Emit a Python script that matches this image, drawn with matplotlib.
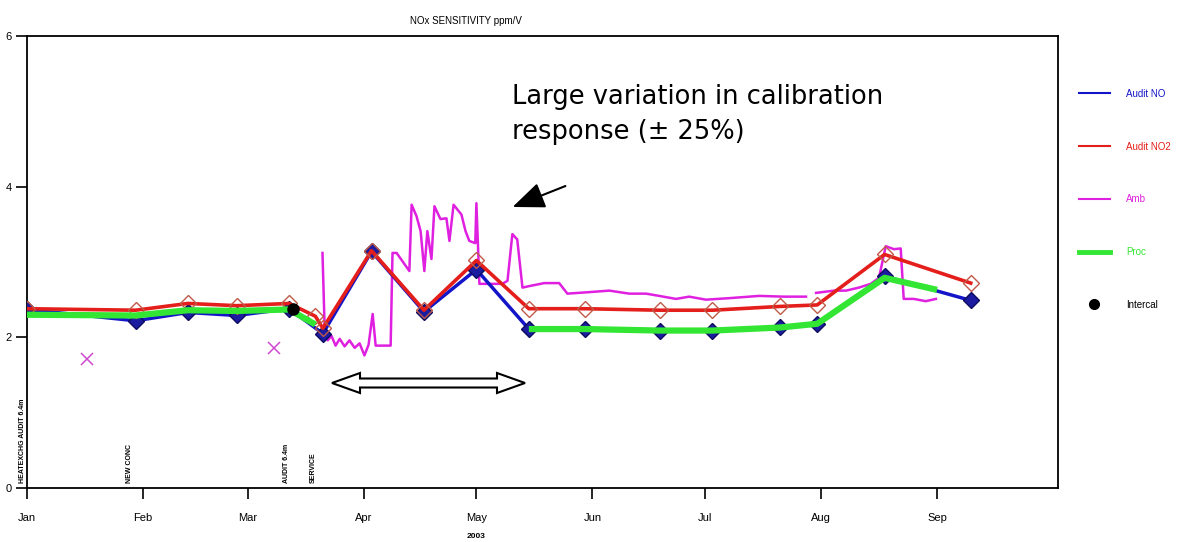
import datetime as dt

import matplotlib

matplotlib.use("Agg")
import matplotlib.dates as mdates
import matplotlib.pyplot as plt
import matplotlib.transforms as mtransforms
import pandas as pd
from matplotlib.lines import Line2D
from matplotlib.patches import Polygon

# --- data ------------------------------------------------------------------
audit_dates = ["2003-01-01", "2003-01-30", "2003-02-13", "2003-02-26", "2003-03-12",
               "2003-03-21", "2003-04-03", "2003-04-17", "2003-05-01", "2003-05-15",
               "2003-05-30", "2003-06-19", "2003-07-03", "2003-07-21", "2003-07-31",
               "2003-08-18", "2003-09-10"]
audit_no = [2.37, 2.22, 2.33, 2.29, 2.38, 2.05, 3.14, 2.34, 2.90, 2.11,
            2.11, 2.09, 2.08, 2.14, 2.18, 2.81, 2.49]

no2_dates = ["2003-01-01", "2003-01-30", "2003-02-13", "2003-02-26", "2003-03-12",
             "2003-03-19", "2003-03-21", "2003-04-03", "2003-04-17", "2003-05-01",
             "2003-05-15", "2003-05-30", "2003-06-19", "2003-07-03", "2003-07-21",
             "2003-07-31", "2003-08-18", "2003-09-10"]
audit_no2 = [2.38, 2.36, 2.45, 2.42, 2.45, 2.28, 2.12, 3.15, 2.36, 3.02,
             2.38, 2.38, 2.36, 2.36, 2.41, 2.43, 3.10, 2.72]

proc_dates = ["2003-01-01", "2003-01-30", "2003-02-13", "2003-02-26", "2003-03-12",
              "2003-03-19", "2003-04-01", "2003-05-15", "2003-05-30", "2003-06-19",
              "2003-07-03", "2003-07-21", "2003-07-31", "2003-08-18", "2003-09-01"]
proc = [2.30, 2.29, 2.36, 2.35, 2.37, 2.17, None, 2.11, 2.11, 2.09,
        2.09, 2.13, 2.18, 2.79, 2.63]

# ambient (daily) - days after 1 Jan 2003
amb_day = [78.9, 79.5, 80.3, 81.3, 82.4, 83.5, 84.8, 86.1, 87.5, 88.8, 90.1, 91.2,
           92.3, 93.1, 95.5, 97.1, 97.6, 98.7, 102.1, 102.7, 104.0, 105.1, 106.1,
           106.9, 108.0, 108.8, 110.4, 112.0, 112.8, 113.9, 116.0, 117.1, 118.1,
           119.7, 120.0, 120.8, 126.9, 128.3, 129.6, 130.9, 132.3, 134.1, 138.1,
           142.1, 144.3, 150.1, 155.5, 160.8, 165.3, 168.8, 173.3, 176.8, 181.3,
           187.5, 195.5, 202.1, 208.0, 209.4, 210.7, 215.5, 218.7, 222.1, 225.3,
           227.5, 229.3, 231.5, 233.3, 234.1, 236.8, 240.0, 242.7]
amb = [3.12, 2.09, 1.96, 2.02, 1.89, 1.98, 1.88, 1.96, 1.86, 1.92, 1.76, 1.90,
       2.31, 1.89, 1.89, 1.89, 3.12, 3.12, 2.88, 3.76, 3.61, 3.41, 2.88,
       3.41, 3.04, 3.74, 3.57, 3.58, 3.28, 3.76, 3.63, 3.41, 3.28,
       3.25, 3.78, 2.71, 2.71, 2.75, 3.37, 3.30, 2.66, 2.68, 2.72,
       2.72, 2.58, 2.60, 2.62, 2.58, 2.58, 2.55, 2.51, 2.54, 2.50,
       2.52, 2.55, 2.54, 2.54, None, 2.59, 2.62, 2.62, 2.66, 2.71,
       2.79, 3.21, 3.17, 3.18, 2.51, 2.51, 2.48, 2.51]

amb_x_dates = ["2003-01-17", "2003-03-08"]
amb_x_vals = [1.71, 1.86]

intercal_dates = ["2003-03-13"]
intercal_vals = [2.37]

event_day = [-1.3, 27.5, 69.3, 76.5]
event_labels = ["HEATEXCHG AUDIT 6.4m", "NEW CONC", "AUDIT 6.4m", "SERVICE"]

months = ["Jan", "Feb", "Mar", "Apr", "May", "Jun", "Jul", "Aug", "Sep"]

# ----------------------------------------------------------------------------
NARROW = ["Liberation Sans Narrow", "Liberation Sans", "DejaVu Sans"]
W, H = 1177, 542


def dnum(dates):
    return mdates.date2num(pd.to_datetime(dates).to_pydatetime())


def nan_none(vals):
    return [float("nan") if v is None else v for v in vals]


base = mdates.date2num(dt.datetime(2003, 1, 1))

fig = plt.figure(figsize=(W / 100, H / 100), dpi=100)
ax = fig.add_axes([27 / W, 1 - 488 / H, (1058 - 27) / W, (488 - 36) / H])

ax.plot([base + d for d in amb_day], nan_none(amb), color="#e020e0", lw=1.8, zorder=2)
ax.plot(dnum(amb_x_dates), amb_x_vals, ls="none", marker="x", ms=9, mew=1.1,
        color="#d048d0", zorder=2)
ax.plot(dnum(audit_dates), audit_no, color="#1414c8", lw=2.5, marker="D", ms=8.5,
        mfc="#1c1ca0", mec="#0c0c60", zorder=3)
ax.plot(dnum(no2_dates), audit_no2, color="#e41e1a", lw=2.6, marker="D", ms=8.5,
        mfc="none", mec="#c05a48", mew=1.0, zorder=4)
ax.plot(dnum(proc_dates), nan_none(proc), color="#33e633", lw=4.5,
        solid_capstyle="butt", zorder=5)
ax.plot(dnum(intercal_dates), intercal_vals, ls="none", marker="o", ms=8,
        color="black", zorder=6)

ax.set_xlim(base, base + 275.3)
ax.set_ylim(0, 6)
ax.set_yticks([0, 2, 4, 6])
ax.set_xticks([mdates.date2num(dt.datetime(2003, m, 1)) for m in range(1, 10)])
ax.set_xticklabels(months)
ax.tick_params(direction="out", length=8, width=1.2, labelsize=8, pad=10)
for lab in ax.get_xticklabels() + ax.get_yticklabels():
    lab.set_family(NARROW)
ax.tick_params(axis="y", pad=3)
for sp in ax.spines.values():
    sp.set_linewidth(1.3)

# vertical event labels near the bottom
for d, lab in zip(event_day, event_labels):
    ax.text(base + d, 0.07, lab, rotation=90, fontsize=5, family=NARROW,
            fontweight="bold", ha="center", va="bottom", clip_on=False)

# title and year
fig.text(466 / W, 1 - 21 / H, "NOx SENSITIVITY ppm/V", fontsize=7, family=NARROW,
         ha="center", va="center")
blend = mtransforms.blended_transform_factory(ax.transData, fig.transFigure)
fig.text(mdates.date2num(dt.datetime(2003, 5, 1)), 1 - 536 / H, "2003", fontsize=6,
         family=NARROW, fontweight="bold", ha="center", va="center", transform=blend)

# legend
handles = [Line2D([], [], color="#1414c8", lw=1.5),
           Line2D([], [], color="#e41e1a", lw=1.5),
           Line2D([], [], color="#e020e0", lw=1.5),
           Line2D([], [], color="#33e633", lw=3.5),
           Line2D([], [], ls="none", marker="o", ms=7, color="black")]
labels = ["Audit NO", "Audit NO2", "Amb", "Proc", "Intercal"]
leg = fig.legend(handles, labels, loc="upper left", bbox_to_anchor=(1070 / W, 1 - 80 / H),
                 frameon=False, fontsize=7, handlelength=3.2, handletextpad=1.7,
                 labelspacing=4.4, labelcolor="linecolor")
for t in leg.get_texts():
    t.set_family(NARROW)

# annotation text and arrows
fig.text(512 / W, 1 - 84 / H, "Large variation in calibration\nresponse (\u00b1 25%)",
         fontsize=18.5, ha="left", va="top", linespacing=1.45)
ax.annotate("", xy=(510, H - 208), xycoords="figure pixels",
            xytext=(568, H - 185), textcoords="figure pixels",
            arrowprops=dict(arrowstyle="-|>,head_length=1.1,head_width=0.45",
                            color="black", lw=1.5, mutation_scale=18))

# hollow double-headed arrow (figure pixels)
x0, x1, yc = 332, 525, H - 383
hl, sh, hh = 28, 4.5, 10
pts = [(x0, yc), (x0 + hl, yc + hh), (x0 + hl, yc + sh), (x1 - hl, yc + sh),
       (x1 - hl, yc + hh), (x1, yc), (x1 - hl, yc - hh), (x1 - hl, yc - sh),
       (x0 + hl, yc - sh), (x0 + hl, yc - hh)]
fig.patches.append(Polygon(pts, closed=True, fc="white", ec="black", lw=1.5,
                           transform=None, figure=fig))

fig.savefig("out.png", dpi=100)
